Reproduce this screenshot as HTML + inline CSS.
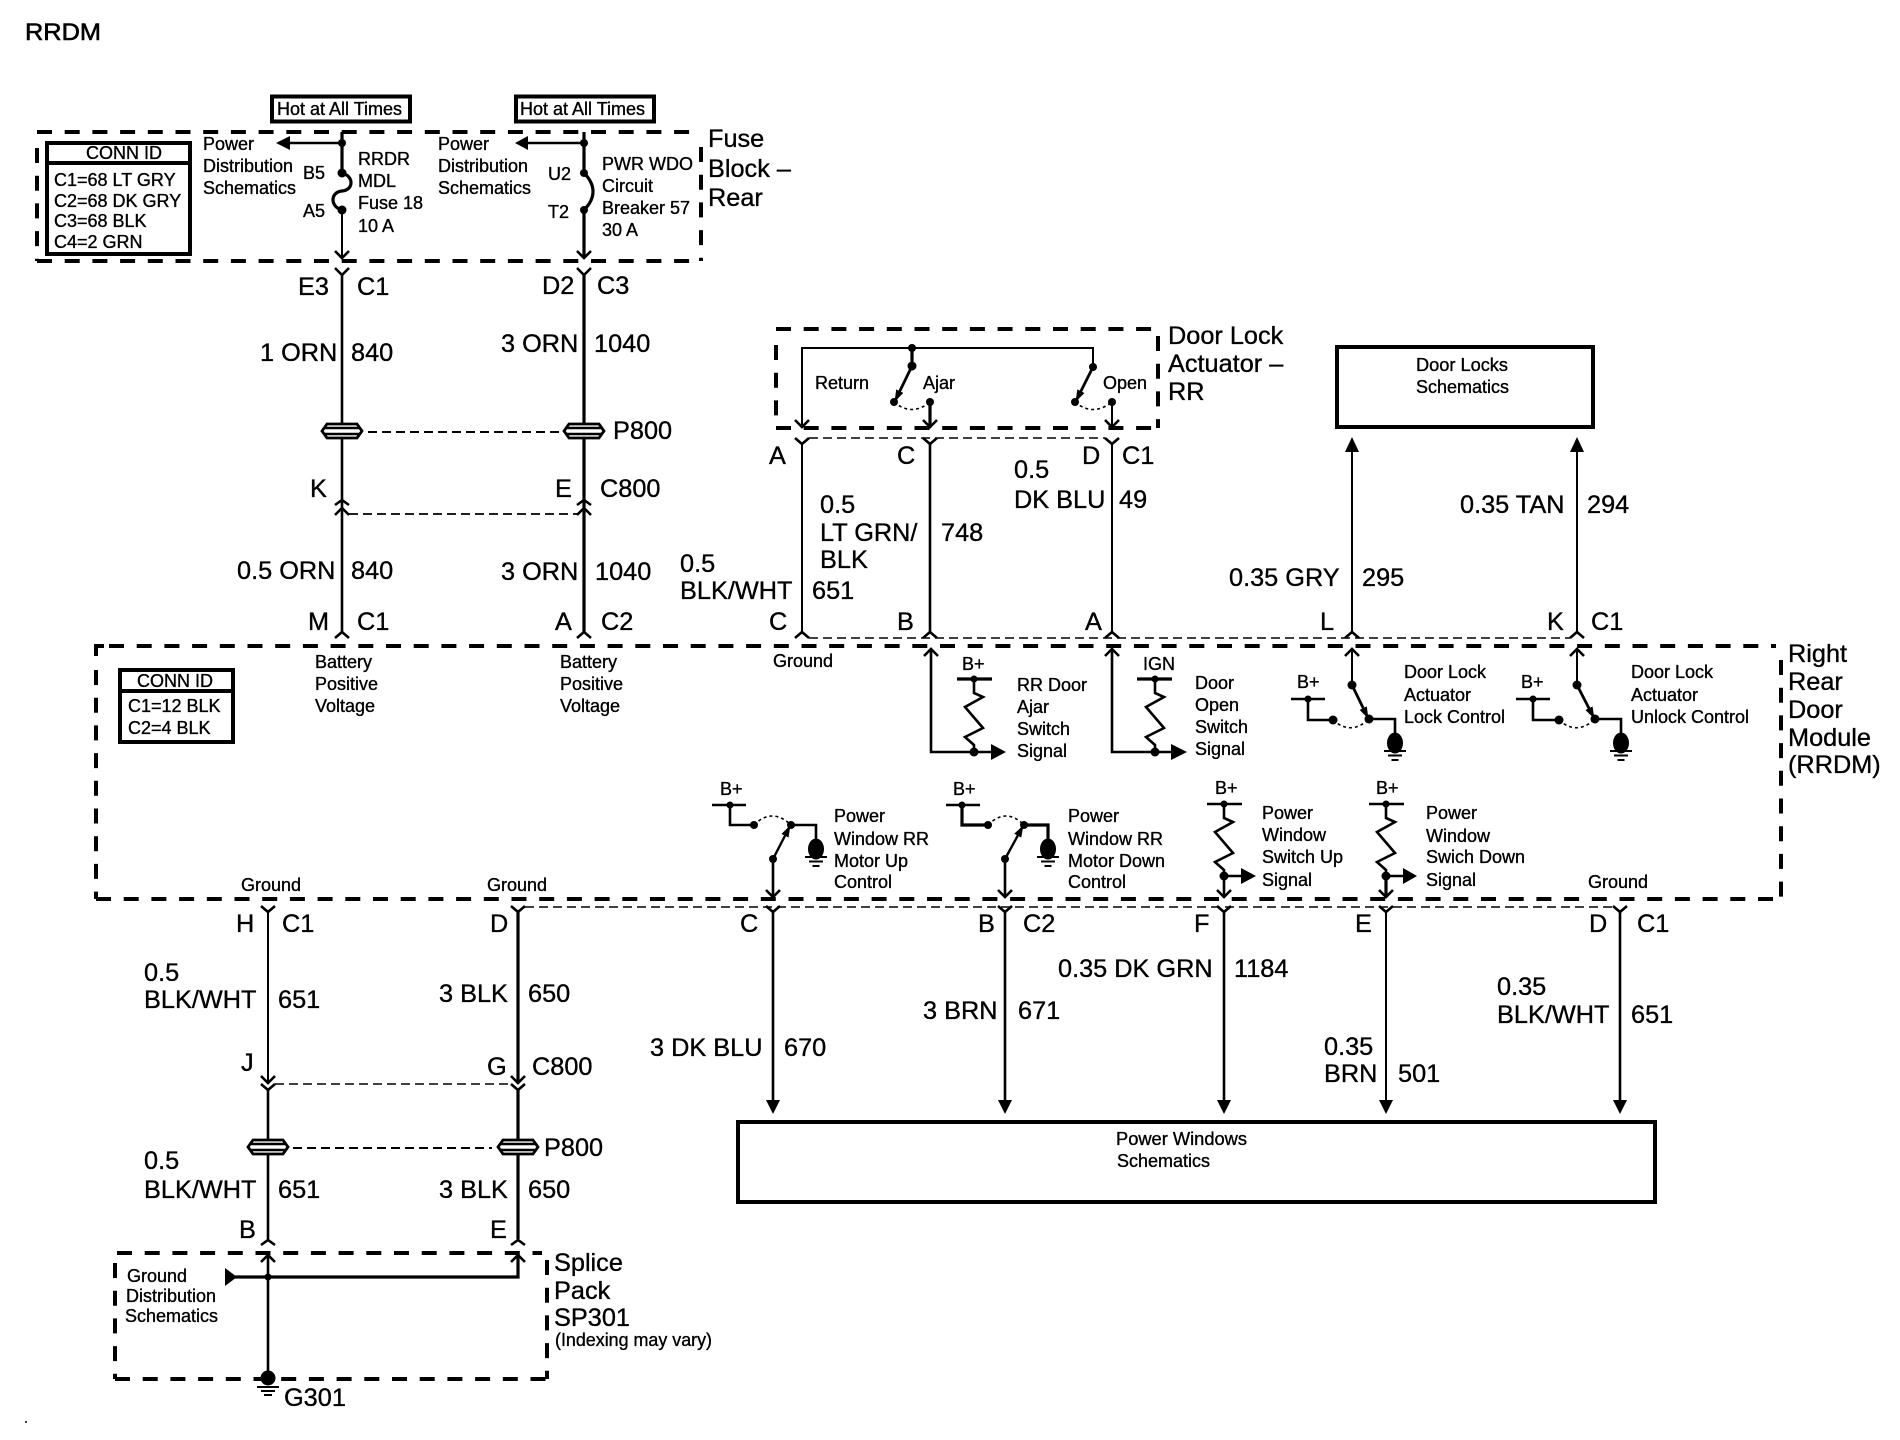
<!DOCTYPE html>
<html><head><meta charset="utf-8"><title>RRDM</title>
<style>
html,body{margin:0;padding:0;background:#fff}
svg{display:block}
text{font-family:"Liberation Sans",Arial,sans-serif;fill:#000;stroke:#000;stroke-width:.35}
.s{font-size:18px}
.l{font-size:25.300px}
.w{fill:none;stroke:#000;stroke-width:2.6}
.t{fill:none;stroke:#000;stroke-width:2}
.b{fill:none;stroke:#000;stroke-width:3.2}
.d{fill:none;stroke:#000;stroke-width:4;stroke-dasharray:15 12.7}
.c{fill:none;stroke:#000;stroke-width:4}
.h{fill:none;stroke:#000;stroke-width:1.4;stroke-dasharray:9 5}
.o{fill:none;stroke:#000;stroke-width:1.6;stroke-dasharray:3 3}
.r{fill:none;stroke:#000;stroke-width:4}
.f{fill:#000;stroke:none}
</style></head>
<body>
<svg width="1900" height="1440" viewBox="0 0 1900 1440" xmlns="http://www.w3.org/2000/svg">
<defs>
<marker id="mh" markerWidth="14" markerHeight="10" refX="11" refY="4" orient="auto" markerUnits="userSpaceOnUse"><path d="M0,0 L12,4 L0,8 Z" fill="#000"/></marker>
<g id="res"><polyline class="w" points="0,0 0,14 9,18 -9,28 9,49 -9,58 0,66 0,72"/></g>
<g id="gnd"><ellipse cx="0" cy="0" rx="8" ry="10.5" fill="#000"/><path d="M-11,8 H11 M-7,12.5 H7 M-3.5,17 H3.5" fill="none" stroke="#000" stroke-width="2"/></g>
<g id="plug"><polygon points="-15,-7 15,-7 20,0 15,7 -15,7 -20,0" fill="#fff" stroke="#000" stroke-width="2.8"/><path d="M-17,-3 H17 M-17,3 H17" fill="none" stroke="#000" stroke-width="2.4"/></g>
</defs>

<text x="25" y="40" class="l" style="font-size:24px;stroke-width:.6" textLength="76" lengthAdjust="spacingAndGlyphs">RRDM</text>

<!-- Hot boxes -->
<rect x="272" y="96.500" width="138" height="25" class="r"/>
<text x="277" y="115" class="s">Hot at All Times</text>
<rect x="516" y="96.500" width="138" height="25" class="r"/>
<text x="520" y="115" class="s">Hot at All Times</text>

<!-- Fuse block dashed -->
<path class="d" d="M37,132 H701"/>
<path class="d" d="M701,147 V261"/>
<path class="d" d="M37,261 H701"/>
<path class="d" d="M37,148 V261"/>

<!-- Conn ID 1 -->
<rect x="47" y="143" width="143" height="111" class="r"/>
<path class="r" d="M47,163 H190"/>
<text x="86" y="159" class="s">CONN ID</text>
<text x="54" y="186" class="s">C1=68 LT GRY</text>
<text x="54" y="207" class="s">C2=68 DK GRY</text>
<text x="54" y="227" class="s">C3=68 BLK</text>
<text x="54" y="248" class="s">C4=2 GRN</text>

<!-- Power dist -->
<text x="203" y="150" class="s">Power</text>
<text x="203" y="172" class="s">Distribution</text>
<text x="203" y="194" class="s">Schematics</text>
<text x="438" y="150" class="s">Power</text>
<text x="438" y="172" class="s">Distribution</text>
<text x="438" y="194" class="s">Schematics</text>
<text x="303" y="179" class="s">B5</text>
<text x="303" y="217" class="s">A5</text>
<text x="358" y="165" class="s">RRDR</text>
<text x="358" y="187" class="s">MDL</text>
<text x="358" y="209" class="s">Fuse 18</text>
<text x="358" y="232" class="s">10 A</text>
<text x="548" y="180" class="s">U2</text>
<text x="548" y="218" class="s">T2</text>
<text x="602" y="170" class="s">PWR WDO</text>
<text x="602" y="192" class="s">Circuit</text>
<text x="602" y="214" class="s">Breaker 57</text>
<text x="602" y="236" class="s">30 A</text>
<text x="708" y="147" class="l">Fuse</text>
<text x="708" y="177" class="l">Block –</text>
<text x="708" y="206" class="l">Rear</text>

<path class="b" d="M342,132 V173"/>
<path class="w" d="M342,143 H288"/>
<path class="f" d="M276,143 L290,136 V150 Z"/>
<path class="f" d="M515,143 L528,136 V150 Z"/>
<path class="b" d="M584,132 V173"/>
<path class="w" d="M584,143 H526"/>
<path class="b" d="M342,173 C354,176 354,190 342,191 C330,192 330,207 342,210"/>
<path class="b" d="M584,173 C596,185 596,198 584,210"/>
<circle class="f" cx="342" cy="143" r="4"/><circle class="f" cx="584" cy="143" r="4"/>
<circle class="f" cx="342" cy="173" r="4.500"/><circle class="f" cx="342" cy="210" r="4.500"/>
<circle class="f" cx="584" cy="173" r="4"/><circle class="f" cx="584" cy="210" r="4"/>
<path class="t" d="M342,210 V258"/>
<path class="b" d="M584,210 V258"/>
<path class="w" d="M335,251 L342,258 L349,251 M577,251 L584,258 L591,251"/>

<!-- upper left wires -->
<path class="w" d="M335,268 L342,275 L349,268 M577,268 L584,275 L591,268"/>
<path class="w" d="M342,275 V423"/><path class="b" d="M584,275 V423"/>
<path class="w" d="M342,438 V632"/><path class="b" d="M584,438 V632"/>
<use href="#plug" x="342" y="431"/><use href="#plug" x="584" y="431"/>
<path class="h" d="M368,432 H564" style="stroke-width:2"/>
<path class="w" d="M335,505 L342,500 L349,505 M335,515 L342,508 L349,515 M577,505 L584,500 L591,505 M577,515 L584,508 L591,515"/>
<path class="h" d="M349,514 H578" style="stroke-width:1.800"/>
<path class="w" d="M335,638 L342,632 L349,638 M577,638 L584,632 L591,638"/>
<text x="298" y="295" class="l">E3</text><text x="357" y="295" class="l">C1</text>
<text x="542" y="294" class="l">D2</text><text x="597" y="294" class="l">C3</text>
<text x="260" y="361" class="l">1 ORN</text><text x="351" y="361" class="l">840</text>
<text x="501" y="352" class="l">3 ORN</text><text x="594" y="352" class="l">1040</text>
<text x="613" y="439" class="l">P800</text>
<text x="310" y="497" class="l">K</text><text x="555" y="497" class="l">E</text><text x="600" y="497" class="l">C800</text>
<text x="237" y="579" class="l">0.5 ORN</text><text x="351" y="579" class="l">840</text>
<text x="501" y="580" class="l">3 ORN</text><text x="595" y="580" class="l">1040</text>
<text x="308" y="630" class="l">M</text><text x="357" y="630" class="l">C1</text>
<text x="555" y="630" class="l">A</text><text x="601" y="630" class="l">C2</text>

<!-- Door lock actuator -->
<path class="d" d="M776,329 H1158"/>
<path class="d" d="M1158,336 V428"/>
<path class="d" d="M776,428 H1158"/>
<path class="d" d="M776,345 V428"/>
<path class="t" d="M802,427 V348 H1093 V367"/>
<path class="b" d="M912,348 V366"/>
<line x1="912" y1="366" x2="895" y2="401" stroke="#000" stroke-width="2.800" marker-end="url(#mh)"/>
<line x1="1093" y1="367" x2="1076" y2="401" stroke="#000" stroke-width="2.800" marker-end="url(#mh)"/>
<circle class="f" cx="912" cy="348" r="4"/><circle class="f" cx="912" cy="366" r="4.500"/>
<circle class="f" cx="1093" cy="367" r="4"/><circle class="f" cx="894" cy="402" r="4"/>
<circle class="f" cx="930" cy="402" r="4"/><circle class="f" cx="1075" cy="402" r="4"/><circle class="f" cx="1112" cy="402" r="4"/>
<path class="o" d="M894,402 Q912,417 930,402"/><path class="o" d="M1075,402 Q1093,417 1112,402"/>
<path class="b" d="M930,402 V427"/><path class="t" d="M1112,402 V427"/>
<path class="w" d="M795,420 L802,427 L809,420 M923,420 L930,427 L937,420 M1105,420 L1112,427 L1119,420"/>
<text x="815" y="389" class="s">Return</text>
<text x="923" y="389" class="s">Ajar</text>
<text x="1103" y="389" class="s">Open</text>
<text x="1168" y="344" class="l">Door Lock</text>
<text x="1168" y="372" class="l">Actuator –</text>
<text x="1168" y="400" class="l">RR</text>

<path class="w" d="M795,438 L802,444 L809,438 M923,438 L930,444 L937,438 M1105,438 L1112,444 L1119,438"/>
<path class="h" d="M809,438 H1105"/>
<path class="t" d="M802,444 V632"/><path class="w" d="M930,444 V632"/><path class="t" d="M1112,444 V632"/>
<path class="w" d="M795,638 L802,632 L809,638 M923,638 L930,632 L937,638 M1105,638 L1112,632 L1119,638 M1345,638 L1352,632 L1359,638 M1570,638 L1577,632 L1584,638"/>
<path class="h" d="M809,638 H1570"/>

<text x="769" y="464" class="l">A</text><text x="897" y="464" class="l">C</text><text x="1082" y="464" class="l">D</text><text x="1122" y="464" class="l">C1</text>
<text x="820" y="513" class="l">0.5</text><text x="820" y="541" class="l">LT GRN/</text><text x="820" y="568" class="l">BLK</text>
<text x="941" y="541" class="l">748</text>
<text x="1014" y="478" class="l">0.5</text><text x="1014" y="508" class="l">DK BLU</text><text x="1119" y="508" class="l">49</text>
<text x="680" y="572" class="l">0.5</text><text x="680" y="599" class="l">BLK/WHT</text><text x="812" y="599" class="l">651</text>
<text x="1460" y="513" class="l">0.35 TAN</text><text x="1587" y="513" class="l">294</text>
<text x="1229" y="586" class="l">0.35 GRY</text><text x="1362" y="586" class="l">295</text>
<text x="769" y="630" class="l">C</text><text x="897" y="630" class="l">B</text><text x="1085" y="630" class="l">A</text>
<text x="1320" y="630" class="l">L</text><text x="1547" y="630" class="l">K</text><text x="1591" y="630" class="l">C1</text>

<!-- Door locks box -->
<rect x="1337" y="347" width="256" height="80" class="r"/>
<text x="1416" y="371" class="s" textLength="92" lengthAdjust="spacingAndGlyphs">Door Locks</text>
<text x="1416" y="393" class="s" textLength="93" lengthAdjust="spacingAndGlyphs">Schematics</text>
<path class="t" d="M1352,450 V632"/><path class="t" d="M1577,450 V632"/>
<path class="f" d="M1352,437 L1359,452 H1345 Z M1577,437 L1584,452 H1570 Z"/>

<!-- RRDM box -->
<path class="c" d="M96,656 V646 H104"/>
<path class="d" d="M109,646 H1776"/>
<path class="d" d="M1781,660 V899"/>
<path class="d" d="M96,899 H1781"/>
<path class="d" d="M96,670 V899"/>
<text x="1788" y="662" class="l">Right</text>
<text x="1788" y="690" class="l">Rear</text>
<text x="1788" y="718" class="l">Door</text>
<text x="1788" y="746" class="l">Module</text>
<text x="1788" y="773" class="l">(RRDM)</text>

<rect x="120" y="670" width="113" height="72" class="r"/>
<path class="r" d="M118,691 H233"/>
<text x="137" y="687" class="s">CONN ID</text>
<text x="128" y="712" class="s">C1=12 BLK</text>
<text x="128" y="734" class="s">C2=4 BLK</text>
<text x="315" y="668" class="s">Battery</text><text x="315" y="690" class="s">Positive</text><text x="315" y="712" class="s">Voltage</text>
<text x="560" y="668" class="s">Battery</text><text x="560" y="690" class="s">Positive</text><text x="560" y="712" class="s">Voltage</text>
<text x="773" y="667" class="s">Ground</text>

<!-- Ajar signal -->
<path class="w" d="M931,650 V752 H995"/>
<path class="w" d="M924,656 L931,649 L938,656"/>
<path class="f" d="M1006,752 L991,744 V760 Z"/>
<path class="b" d="M957,679 H992"/>
<use href="#res" x="974" y="679"/>
<circle class="f" cx="974" cy="679" r="3.500"/><circle class="f" cx="974" cy="752" r="4.500"/>
<text x="962" y="670" class="s">B+</text>
<text x="1017" y="691" class="s">RR Door</text><text x="1017" y="713" class="s">Ajar</text><text x="1017" y="735" class="s">Switch</text><text x="1017" y="757" class="s">Signal</text>

<!-- Door open signal -->
<path class="w" d="M1112,650 V752 H1176"/>
<path class="w" d="M1105,656 L1112,649 L1119,656"/>
<path class="f" d="M1187,752 L1171,744 V760 Z"/>
<path class="b" d="M1137,679 H1172"/>
<use href="#res" x="1155" y="679"/>
<circle class="f" cx="1155" cy="679" r="3.500"/><circle class="f" cx="1155" cy="752" r="4.500"/>
<text x="1143" y="670" class="s">IGN</text>
<text x="1195" y="689" class="s">Door</text><text x="1195" y="711" class="s">Open</text><text x="1195" y="733" class="s">Switch</text><text x="1195" y="755" class="s">Signal</text>

<!-- Lock control -->
<path class="t" d="M1352,649 V685"/>
<path class="w" d="M1345,656 L1352,649 L1359,656"/>
<line x1="1352" y1="685" x2="1368" y2="718" stroke="#000" stroke-width="2.800" marker-end="url(#mh)"/>
<path class="w" d="M1291,699 H1325"/>
<path class="w" d="M1308,699 V720 H1333"/>
<path class="w" d="M1369,719 H1395 V735"/>
<path class="o" d="M1333,720 Q1351,736 1369,719"/>
<circle class="f" cx="1308" cy="699" r="3.500"/><circle class="f" cx="1333" cy="720" r="4.500"/><circle class="f" cx="1369" cy="719" r="4.500"/><circle class="f" cx="1352" cy="685" r="4.500"/>
<use href="#gnd" x="1395" y="743"/>
<text x="1297" y="688" class="s">B+</text>
<text x="1404" y="678" class="s">Door Lock</text><text x="1404" y="701" class="s">Actuator</text><text x="1404" y="723" class="s">Lock Control</text>

<!-- Unlock control -->
<path class="t" d="M1577,649 V685"/>
<path class="w" d="M1570,656 L1577,649 L1584,656"/>
<line x1="1577" y1="685" x2="1594" y2="718" stroke="#000" stroke-width="2.800" marker-end="url(#mh)"/>
<path class="w" d="M1516,699 H1550"/>
<path class="w" d="M1533,699 V720 H1559"/>
<path class="w" d="M1595,719 H1621 V735"/>
<path class="o" d="M1559,720 Q1577,736 1595,719"/>
<circle class="f" cx="1533" cy="699" r="3.500"/><circle class="f" cx="1559" cy="720" r="4.500"/><circle class="f" cx="1595" cy="719" r="4.500"/><circle class="f" cx="1577" cy="685" r="4.500"/>
<use href="#gnd" x="1621" y="743"/>
<text x="1521" y="688" class="s">B+</text>
<text x="1631" y="678" class="s">Door Lock</text><text x="1631" y="701" class="s">Actuator</text><text x="1631" y="723" class="s">Unlock Control</text>

<!-- Window Up control -->
<path class="w" d="M712,805 H746"/>
<path class="w" d="M730,805 V825 H754"/>
<path class="o" d="M754,825 Q772,807 791,825"/>
<path class="w" d="M791,825 H816 V840"/>
<line x1="773" y1="859" x2="790" y2="826" stroke="#000" stroke-width="2.400" marker-end="url(#mh)"/>
<path class="w" d="M773,859 V897"/>
<path class="w" d="M766,890 L773,897 L780,890"/>
<circle class="f" cx="730" cy="805" r="3.500"/><circle class="f" cx="754" cy="825" r="4"/><circle class="f" cx="791" cy="825" r="4"/><circle class="f" cx="773" cy="859" r="4"/>
<use href="#gnd" x="816" y="849"/>
<text x="720" y="795" class="s">B+</text>
<text x="834" y="822" class="s">Power</text><text x="834" y="845" class="s">Window RR</text><text x="834" y="867" class="s">Motor Up</text><text x="834" y="888" class="s">Control</text>

<!-- Window Down control -->
<path class="w" d="M946,805 H980"/>
<path class="b" d="M962,805 V825 H988"/>
<path class="o" d="M988,825 Q1006,807 1024,825"/>
<path class="b" d="M1024,825 H1048 V840"/>
<line x1="1005" y1="859" x2="1023" y2="826" stroke="#000" stroke-width="2.400" marker-end="url(#mh)"/>
<path class="w" d="M1005,859 V897"/>
<path class="w" d="M998,890 L1005,897 L1012,890"/>
<circle class="f" cx="962" cy="805" r="3.500"/><circle class="f" cx="988" cy="825" r="4"/><circle class="f" cx="1024" cy="825" r="4"/><circle class="f" cx="1005" cy="859" r="4"/>
<use href="#gnd" x="1048" y="849"/>
<text x="953" y="795" class="s">B+</text>
<text x="1068" y="822" class="s">Power</text><text x="1068" y="845" class="s">Window RR</text><text x="1068" y="867" class="s">Motor Down</text><text x="1068" y="888" class="s">Control</text>

<!-- Switch Up -->
<path class="w" d="M1207,804 H1242"/>
<use href="#res" x="1224" y="804"/>
<path class="w" d="M1224,876 V897 M1224,876 H1244"/>
<path class="f" d="M1256,876 L1241,868 V884 Z"/>
<path class="w" d="M1217,890 L1224,897 L1231,890"/>
<circle class="f" cx="1224" cy="804" r="3.500"/><circle class="f" cx="1224" cy="876" r="4.500"/>
<text x="1215" y="794" class="s">B+</text>
<text x="1262" y="819" class="s">Power</text><text x="1262" y="841" class="s">Window</text><text x="1262" y="863" class="s">Switch Up</text><text x="1262" y="886" class="s">Signal</text>

<!-- Switch Down -->
<path class="w" d="M1369,804 H1404"/>
<use href="#res" x="1386" y="804"/>
<path class="b" d="M1386,876 V897"/><path class="w" d="M1386,876 H1405"/>
<path class="f" d="M1417,876 L1403,868 V884 Z"/>
<path class="w" d="M1379,890 L1386,897 L1393,890"/>
<circle class="f" cx="1386" cy="804" r="3.500"/><circle class="f" cx="1386" cy="876" r="4.500"/>
<text x="1376" y="794" class="s">B+</text>
<text x="1426" y="819" class="s">Power</text><text x="1426" y="842" class="s">Window</text><text x="1426" y="863" class="s">Swich Down</text><text x="1426" y="886" class="s">Signal</text>

<text x="1588" y="888" class="s">Ground</text>
<text x="241" y="891" class="s">Ground</text>
<text x="487" y="891" class="s">Ground</text>

<!-- Lower right wires -->
<path class="h" d="M525,907 H1613"/>
<path class="w" d="M261,906 L268,912 L275,906 M511,906 L518,912 L525,906 M766,906 L773,912 L780,906 M998,906 L1005,912 L1012,906 M1217,906 L1224,912 L1231,906 M1379,906 L1386,912 L1393,906 M1613,906 L1620,912 L1627,906"/>
<path class="w" d="M773,912 V1102 M1005,912 V1102 M1224,912 V1102 M1620,912 V1102"/>
<path class="t" d="M1386,912 V1102"/>
<path class="f" d="M773,1114 L766,1100 H780 Z M1005,1114 L998,1100 H1012 Z M1224,1114 L1217,1100 H1231 Z M1386,1114 L1379,1100 H1393 Z M1620,1114 L1613,1100 H1627 Z"/>
<rect x="738" y="1122" width="917" height="80" class="r"/>
<text x="1116" y="1145" class="s" textLength="131" lengthAdjust="spacingAndGlyphs">Power Windows</text>
<text x="1117" y="1167" class="s" textLength="93" lengthAdjust="spacingAndGlyphs">Schematics</text>

<text x="740" y="932" class="l">C</text><text x="978" y="932" class="l">B</text><text x="1023" y="932" class="l">C2</text>
<text x="1194" y="932" class="l">F</text><text x="1355" y="932" class="l">E</text><text x="1589" y="932" class="l">D</text><text x="1637" y="932" class="l">C1</text>
<text x="1058" y="977" class="l">0.35 DK GRN</text><text x="1234" y="977" class="l">1184</text>
<text x="923" y="1019" class="l">3 BRN</text><text x="1018" y="1019" class="l">671</text>
<text x="650" y="1056" class="l">3 DK BLU</text><text x="784" y="1056" class="l">670</text>
<text x="1324" y="1055" class="l">0.35</text><text x="1324" y="1082" class="l">BRN</text><text x="1398" y="1082" class="l">501</text>
<text x="1497" y="995" class="l">0.35</text><text x="1497" y="1023" class="l">BLK/WHT</text><text x="1631" y="1023" class="l">651</text>

<!-- Lower left -->
<path class="h" d="M275,1084 H511"/>
<path class="t" d="M268,912 V1083"/>
<path class="b" d="M518,912 V1083"/>
<path class="w" d="M261,1076 L268,1083 L275,1076 M511,1076 L518,1083 L525,1076"/>
<path class="w" d="M261,1084 L268,1090 L275,1084 M511,1084 L518,1090 L525,1084"/>
<path class="w" d="M268,1090 V1140 M268,1154 V1239"/>
<path class="b" d="M518,1090 V1140 M518,1154 V1239"/>
<use href="#plug" x="268" y="1147"/><use href="#plug" x="518" y="1147"/>
<path class="h" d="M293,1148 H492" style="stroke-width:2"/>
<path class="w" d="M261,1245 L268,1240 L275,1245 M511,1245 L518,1240 L525,1245"/>

<text x="236" y="932" class="l">H</text><text x="282" y="932" class="l">C1</text><text x="490" y="932" class="l">D</text>
<text x="144" y="981" class="l">0.5</text><text x="144" y="1008" class="l">BLK/WHT</text><text x="278" y="1008" class="l">651</text>
<text x="439" y="1002" class="l">3 BLK</text><text x="528" y="1002" class="l">650</text>
<text x="241" y="1071" class="l">J</text><text x="487" y="1075" class="l">G</text><text x="532" y="1075" class="l">C800</text>
<text x="544" y="1156" class="l">P800</text>
<text x="144" y="1169" class="l">0.5</text><text x="144" y="1198" class="l">BLK/WHT</text><text x="278" y="1198" class="l">651</text>
<text x="439" y="1198" class="l">3 BLK</text><text x="528" y="1198" class="l">650</text>
<text x="239" y="1238" class="l">B</text><text x="490" y="1238" class="l">E</text>

<!-- Splice pack -->
<path class="d" d="M117,1253 H542"/>
<path class="d" d="M547,1260 V1379"/>
<path class="d" d="M115,1379 H547"/>
<path class="d" d="M115,1263 V1379"/>
<path class="w" d="M268,1255 V1378"/>
<path class="w" d="M261,1262 L268,1255 L275,1262 M511,1262 L518,1255 L525,1262"/>
<path class="b" d="M235,1277 H518 V1256"/>
<path class="f" d="M237,1277 L225,1268 V1286 Z"/>
<circle class="f" cx="268" cy="1277" r="3.500"/>
<circle class="f" cx="268" cy="1378" r="7.500"/>
<path d="M257,1387 H279 M261,1391 H275 M264,1395 H272" fill="none" stroke="#000" stroke-width="2"/>
<text x="127" y="1282" class="s">Ground</text>
<text x="126" y="1302" class="s">Distribution</text>
<text x="125" y="1322" class="s">Schematics</text>
<text x="554" y="1271" class="l">Splice</text>
<text x="554" y="1299" class="l">Pack</text>
<text x="554" y="1326" class="l">SP301</text>
<text x="555" y="1346" class="s" textLength="157" lengthAdjust="spacingAndGlyphs">(Indexing may vary)</text>
<text x="284" y="1406" class="l">G301</text>
<circle class="f" cx="26" cy="1422" r="1"/>
</svg>
</body></html>
